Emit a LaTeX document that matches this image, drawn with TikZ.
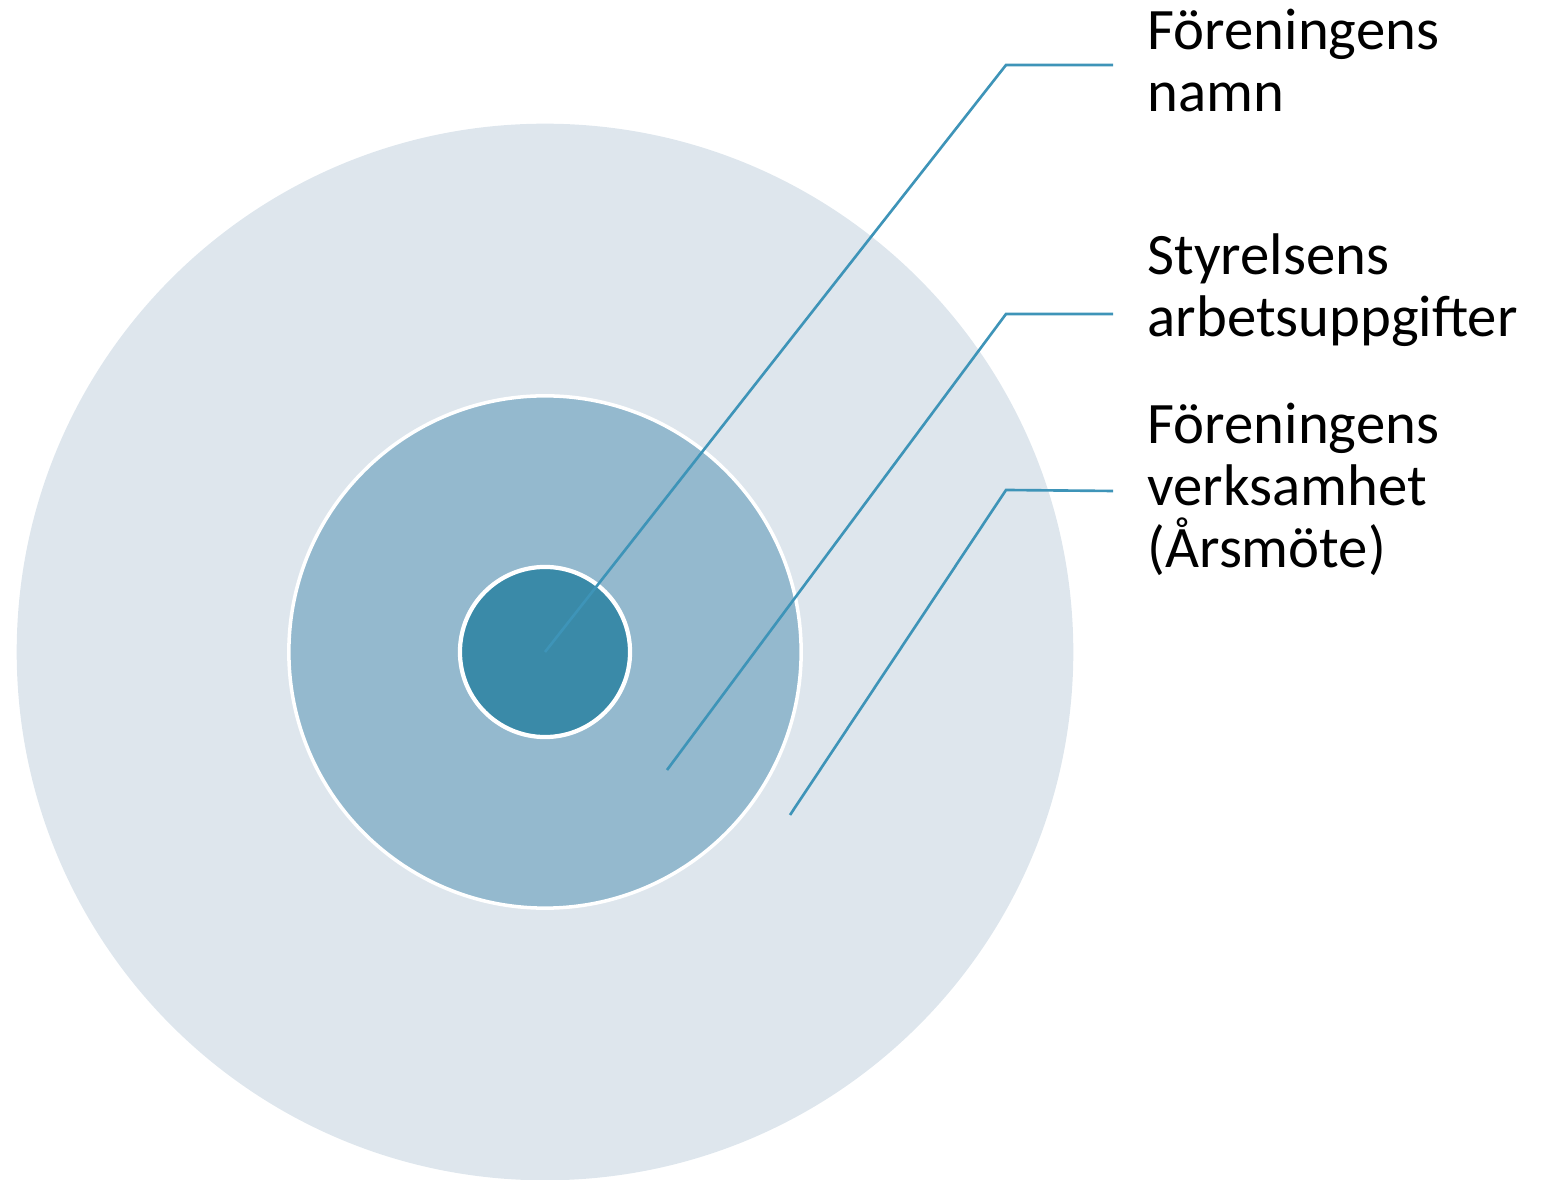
\documentclass[tikz,border=0pt]{standalone}
\usepackage{fontspec}
\setmainfont{Carlito}
\usetikzlibrary{calc}
\definecolor{outer_ring}{RGB}{222,230,237}
\definecolor{middle_ring}{RGB}{148,185,206}
\definecolor{inner_ring}{RGB}{58,138,168}
\definecolor{leader_line}{RGB}{62,148,184}
\tikzset{
  ring/.style={circle, inner sep=0pt, outer sep=0pt},
  leader/.style={leader_line, line width=0.75pt},
  ring label/.style={anchor=base west, inner sep=0pt, align=left,
    font=\fontsize{16.7pt}{17.64pt}\selectfont}
}

\begin{document}
\begin{tikzpicture}[x=0.01cm, y=0.01cm]
\useasboundingbox (0,0) rectangle (1552,1179);

% Draw the three rings
\node[ring, fill=outer_ring, minimum size=10.56cm] (outer) at (545,527) {};
\node[ring, fill=middle_ring, draw=white, line width=1pt, minimum size=5.12cm] (middle) at (outer.center) {};
\node[ring, fill=inner_ring, draw=white, line width=1.2pt, minimum size=1.70cm] (inner) at (outer.center) {};

% Labels on the right (anchored at the last line)
\node[ring label] (name) at (1147,1067) {Föreningens\\namn};
\node[ring label] (board) at (1147,842) {Styrelsens\\arbetsuppgifter};
\node[ring label] (work) at (1147,611) {Föreningens\\verksamhet\\(Årsmöte)};

% Leader line end points
\coordinate (name start) at (inner.center);
\coordinate (name bend) at (1006,1114);
\coordinate (name end) at (1113,1114);
\coordinate (board start) at (667,409);
\coordinate (board bend) at (1006,865);
\coordinate (board end) at (1113,865);
\coordinate (work start) at (790,364);
\coordinate (work bend) at (1006,689);
\coordinate (work end) at (1113,688);

% Draw the leader lines
\draw[leader] (name start) -- (name bend) -- (name end);
\draw[leader] (board start) -- (board bend) -- (board end);
\draw[leader] (work start) -- (work bend) -- (work end);

\end{tikzpicture}
\end{document}
